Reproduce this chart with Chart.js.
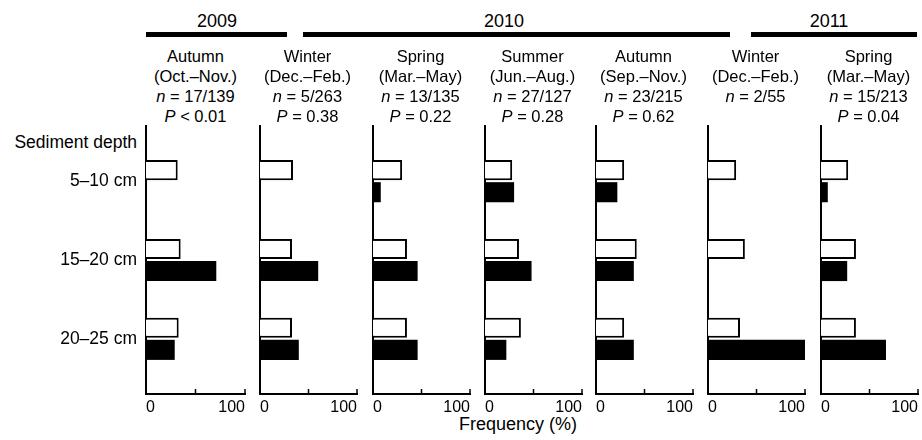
<!DOCTYPE html>
<html>
<head>
<meta charset="utf-8">
<script src="https://cdn.jsdelivr.net/npm/chart.js@4.4.1/dist/chart.umd.min.js"></script>
<style>
  body { margin: 0; background: #fff; }
  #wrap { position: relative; width: 922px; height: 440px; font-family: "Liberation Sans", Arial, sans-serif; color: #000; }
  #wrap canvas { position: absolute; top: 120px; }
  .head { position: absolute; top: 46px; text-align: center; font-size: 16.5px; line-height: 20px; white-space: nowrap; }
  .year { position: absolute; top: 11px; font-size: 18px; text-align: center; }
  .ybar { position: absolute; top: 32px; height: 5px; background: #000; }
  .lbl { position: absolute; font-size: 17.5px; white-space: nowrap; }
</style>
</head>
<body>
<div id="wrap"></div>
<script>
// DATA
const depthLabels = ['5–10 cm', '15–20 cm', '20–25 cm'];
const seasons = ['Autumn', 'Winter', 'Spring', 'Summer', 'Autumn', 'Winter', 'Spring'];
const months = ['(Oct.–Nov.)', '(Dec.–Feb.)', '(Mar.–May)', '(Jun.–Aug.)', '(Sep.–Nov.)', '(Dec.–Feb.)', '(Mar.–May)'];
const nValues = ['17/139', '5/263', '13/135', '27/127', '23/215', '2/55', '15/213'];
const pValues = ['< 0.01', '= 0.38', '= 0.22', '= 0.28', '= 0.62', null, '= 0.04'];
// open (white) bars and filled (black) bars, one row per panel, % per depth
const openBars = [[32, 35, 33], [34, 33, 33], [30, 35, 35], [28, 35, 37], [29, 42, 29], [29, 38, 33], [28, 36, 36]];
const filledBars = [[0, 71, 29], [0, 60, 40], [8, 46, 46], [30, 48, 22], [22, 39, 39], [0, 0, 100], [7, 27, 67]];
const xTicks = [0, 50, 100];
const years = ['2009', '2010', '2011'];

//LAYOUT
const wrap = document.getElementById('wrap');
const panelX = [146, 258, 371, 483, 594, 706, 819];
const panelW = 99;
const FONT = '"Liberation Sans", Arial, sans-serif';

// year bars
const yearBars = [[146, 287], [303, 730], [751, 917]];
const yearCenters = [217, 504, 829];
years.forEach((y, k) => {
  const b = document.createElement('div');
  b.className = 'ybar';
  b.style.left = yearBars[k][0] + 'px';
  b.style.width = (yearBars[k][1] - yearBars[k][0]) + 'px';
  wrap.appendChild(b);
  const t = document.createElement('div');
  t.className = 'year';
  t.style.left = (yearCenters[k] - 40) + 'px';
  t.style.width = '80px';
  t.textContent = y;
  wrap.appendChild(t);
});

const sed = document.createElement('div');
sed.className = 'lbl';
sed.style.right = (922 - 137) + 'px';
sed.style.top = '132px';
sed.textContent = 'Sediment depth';
wrap.appendChild(sed);

const freq = document.createElement('div');
freq.className = 'lbl';
freq.style.left = '418px';
freq.style.width = '200px';
freq.style.textAlign = 'center';
freq.style.top = '414px';
freq.style.fontSize = '18px';
freq.textContent = 'Frequency (%)';
wrap.appendChild(freq);

const innerTicks = {
  id: 'innerTicks',
  afterDraw(chart) {
    const ctx = chart.ctx, x = chart.scales.x;
    ctx.save();
    ctx.strokeStyle = '#000';
    ctx.lineWidth = 1.5;
    x.ticks.forEach(t => {
      if (t.value === 0) return;
      const px = x.getPixelForValue(t.value);
      ctx.beginPath();
      ctx.moveTo(px, x.top);
      ctx.lineTo(px, x.top - 5);
      ctx.stroke();
    });
    ctx.restore();
  }
};

seasons.forEach((s, i) => {
  const h = document.createElement('div');
  h.className = 'head';
  h.style.left = (panelX[i] - 10) + 'px';
  h.style.width = (panelW + 20) + 'px';
  let html = s + '<br>' + months[i] + '<br><i>n</i> = ' + nValues[i];
  if (pValues[i]) html += '<br><i>P</i> ' + pValues[i];
  h.innerHTML = html;
  wrap.appendChild(h);

  const first = i === 0;
  const yw = first ? 146 : 0;
  const padL = first ? 0 : 2;
  const canvas = document.createElement('canvas');
  canvas.width = padL + yw + panelW + 6;
  canvas.height = 320;
  canvas.style.left = (panelX[i] - yw - padL) + 'px';
  wrap.appendChild(canvas);

  new Chart(canvas, {
    type: 'bar',
    data: {
      datasets: [{
        data: openBars[i].map((v, k) => ({ x: v, y: k })),
        backgroundColor: '#fff',
        borderColor: '#000',
        borderWidth: 2
      }, {
        data: filledBars[i].map((v, k) => ({ x: v, y: k })),
        backgroundColor: '#000',
        borderWidth: 0
      }]
    },
    options: {
      indexAxis: 'y',
      responsive: false,
      animation: false,
      events: [],
      categoryPercentage: 0.56,
      barPercentage: 0.91,
      layout: { padding: { top: 6, left: padL, right: 6, bottom: 0 } },
      scales: {
        x: {
          type: 'linear',
          min: 0,
          max: 100,
          afterBuildTicks: sc => { sc.ticks = xTicks.map(v => ({ value: v })); },
          afterFit: sc => { sc.height = 46; },
          grid: { display: false, drawTicks: false },
          border: { display: true, color: '#000', width: 2 },
          ticks: {
            align: 'inner',
            padding: 4,
            color: '#000',
            font: { family: FONT, size: 16 },
            callback: v => (v === 50 ? '' : v)
          }
        },
        y: {
          type: 'linear',
          reverse: true,
          offset: false,
          min: -0.7,
          max: 2.7,
          afterBuildTicks: sc => { sc.ticks = depthLabels.map((_, k) => ({ value: k })); },
          afterFit: sc => { sc.width = yw; sc.paddingTop = 0; sc.paddingBottom = 0; },
          grid: { display: false, drawTicks: false, offset: false },
          border: { display: true, color: '#000', width: 2 },
          ticks: {
            display: first,
            padding: 9,
            color: '#000',
            font: { family: FONT, size: 17.5 },
            callback: v => depthLabels[v]
          }
        }
      },
      plugins: { legend: { display: false }, tooltip: { enabled: false } }
    },
    plugins: [innerTicks]
  });
});
</script>
</body>
</html>
